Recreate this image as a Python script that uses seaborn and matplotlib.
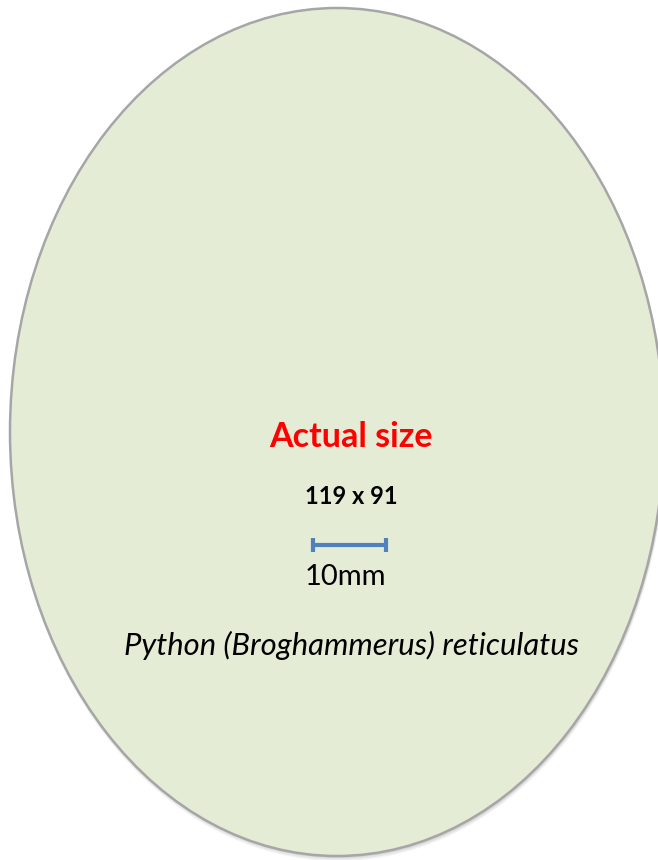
import matplotlib
matplotlib.use("Agg")
import matplotlib.pyplot as plt
from matplotlib.patches import Ellipse
import seaborn as sns
import pandas as pd

sns.set_theme(style="white")
plt.rcParams['font.family'] = ['Lato', 'DejaVu Sans']

# Content
title = "Actual size"
dimensions = "119 x 91"
scale_label = "10mm"
species = "Python (Broghammerus) reticulatus"
scale_bar_x = [313, 386]   # scale bar ends (pixels)

fig = plt.figure(figsize=(6.58, 8.6), dpi=100)
ax = fig.add_axes([0, 0, 1, 1])

cx, cy, w, h = 337, 432, 654, 848
# soft shadow
for i, a in enumerate([0.10, 0.12, 0.15]):
    off = 4 - i
    ax.add_patch(Ellipse((cx + 1, cy + off), w + 2 - i, h + 2 - i, facecolor="#808080",
                         edgecolor="none", alpha=a, zorder=1))
ax.add_patch(Ellipse((cx, cy), w, h, facecolor="#E5ECD6", edgecolor="#A6A6A6",
                     linewidth=1.8, zorder=2))

ax.text(351, 437, title, color="#FF0000", fontsize=24.5, fontweight="bold",
        ha="center", va="center", zorder=3)
ax.text(351, 497, dimensions, color="black", fontsize=17, fontweight="bold",
        ha="center", va="center", zorder=3)

bar = pd.DataFrame({"x": scale_bar_x, "y": [545, 545]})
sns.lineplot(data=bar, x="x", y="y", ax=ax, color="#4F81BD", linewidth=3, zorder=3,
             legend=False)
for xe in scale_bar_x:
    ax.plot([xe, xe], [538, 552], color="#4F81BD", linewidth=3, zorder=3,
            solid_capstyle="butt")
ax.set_xlim(0, 658)
ax.set_ylim(860, 0)
ax.axis("off")

ax.text(345, 577, scale_label, color="black", fontsize=21,
        ha="center", va="center", zorder=3)
ax.text(352, 645, species, color="black", fontsize=22.3, fontstyle="italic",
        ha="center", va="center", zorder=3)

fig.savefig("out.png", dpi=100, facecolor="white")
